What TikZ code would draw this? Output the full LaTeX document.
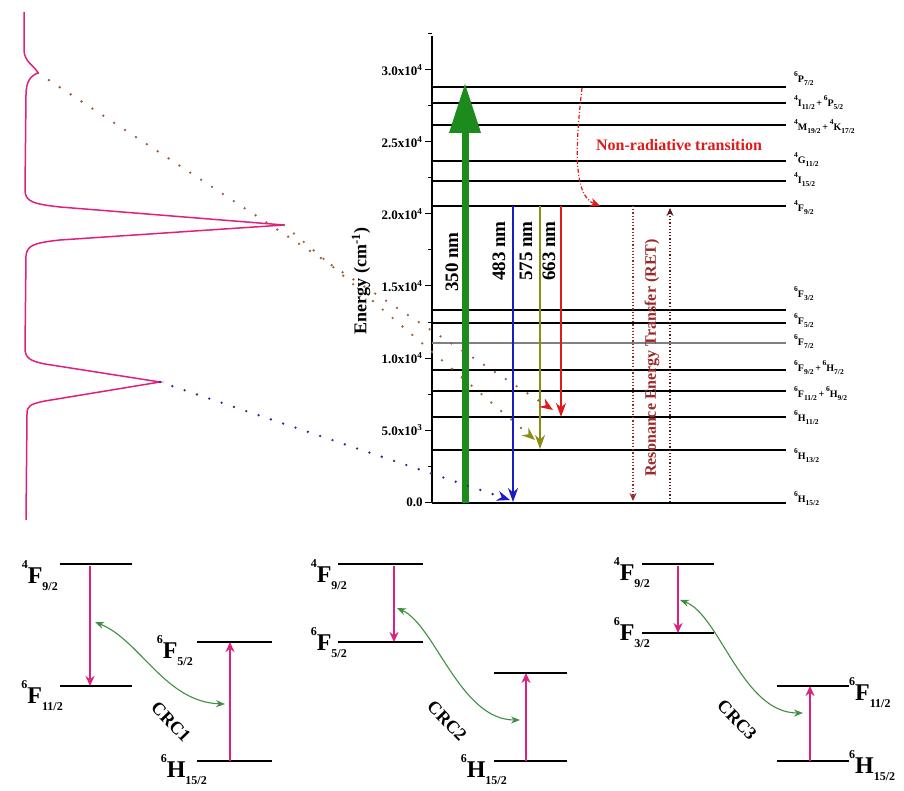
\documentclass[tikz,border=0pt]{standalone}
\usepackage{fontspec}
\setmainfont{Liberation Serif}
\usetikzlibrary{arrows.meta, positioning, calc}
\definecolor{mPink}{HTML}{E0207F}
\definecolor{mGreen}{HTML}{1C8A1C}
\definecolor{mCurve}{HTML}{3F8F3F}
\definecolor{mBlue}{HTML}{1A1AC8}
\definecolor{mOlive}{HTML}{8C8C14}
\definecolor{mRed}{HTML}{E01A1A}
\definecolor{mBrown}{HTML}{9A5A3A}
\definecolor{mNavy}{HTML}{2A2A8A}
\definecolor{mMaroon}{HTML}{9A2A2A}

\def\tsc{.5}
\newcommand{\term}[3]{\raisebox{.6em}{\scalebox{\tsc}{#1}}#2\raisebox{-.3em}{\scalebox{\tsc}{#3}}}

\tikzset{
  level/.style={line width=1.3pt},
  biglevel/.style={line width=2.2pt},
  dots/.style={line width=2.6pt, dash pattern=on 0pt off 13pt, line cap=round},
  lbl/.style={font={\fontsize{10}{10}\selectfont\bfseries\def\tsc{.75}}, anchor=west, inner sep=0pt},
  termlbl/.style={font=\fontsize{24}{24}\selectfont\bfseries, inner sep=0pt},
  crc/.style={font=\fontsize{18}{18}\selectfont\bfseries, rotate=-46, inner sep=0pt},
  nm/.style={font=\fontsize{19}{19}\selectfont\bfseries, rotate=90},
  pinkarr/.style={mPink, line width=2pt, -{Stealth[length=10pt, width=9pt]}},
  cr/.style={mCurve, line width=1.1pt, {Stealth[length=9pt, width=7pt]}-{Stealth[length=9pt, width=7pt]}}
}

\begin{document}
\begin{tikzpicture}[x=1pt, y=-1pt]
\useasboundingbox (0,0) rectangle (904,791);

% emission spectrum
\draw[mPink, line width=1.5pt] (24,12) -- (24,50) .. controls (24,62) and (35,66) .. (38,73) .. controls (30,76) and (26,82) .. (26,95) -- (25,190) .. controls (25,201) and (32,204) .. (60,207) -- (284,225) -- (60,240) .. controls (32,243) and (27,246) .. (26,256) -- (25,348) .. controls (25,358) and (30,361) .. (45,364) -- (160,382) -- (45,401) .. controls (30,404) and (27,406) .. (27,414) -- (26,520);
\coordinate (dip) at (38,73);
\coordinate (pk1) at (284,225);
\coordinate (pk2) at (160,382);

% energy axis
\coordinate (ytop) at (432,36);
\coordinate (yorg) at (432,503);
\draw[line width=1.3pt] (ytop) -- (yorg);
\foreach \k/\t in {0/{0.0}, 1/{5.0x10\textsuperscript{3}}, 2/{1.0x10\textsuperscript{4}}, 3/{1.5x10\textsuperscript{4}}, 4/{2.0x10\textsuperscript{4}}, 5/{2.5x10\textsuperscript{4}}, 6/{3.0x10\textsuperscript{4}}}
  \draw[line width=1pt] (432,{502-\k*72}) -- ++(-7,0) node[left, inner sep=2pt, font=\fontsize{13}{13}\selectfont\bfseries] (tk\k) {\t};
\foreach \k in {0,...,6}
  \draw[line width=1pt] (432,{466-\k*72}) -- ++(-4,0);
\node[rotate=90, font=\fontsize{18}{18}\selectfont\bfseries] (ylab) at (361,281) {Energy (cm\textsuperscript{-1})};

% levels
\foreach \y in {87,103,125,161,181,206,310,323,370,391,417,450,503}
  \draw[level] (432,\y) -- (786,\y);
\draw[level, gray] (432,343) -- (786,343);
\foreach \y/\t [count=\i] in {79/{\term{6}{P}{7/2}}, 103/{\term{4}{I}{11/2}\,+\,\term{6}{P}{5/2}}, 127/{\term{4}{M}{19/2}\,+\,\term{4}{K}{17/2}}, 160/{\term{4}{G}{11/2}}, 180/{\term{4}{I}{15/2}}, 208/{\term{4}{F}{9/2}}, 294/{\term{6}{F}{3/2}}, 321/{\term{6}{F}{5/2}}, 342/{\term{6}{F}{7/2}}, 368/{\term{6}{F}{9/2}\,+\,\term{6}{H}{7/2}}, 394/{\term{6}{F}{11/2}\,+\,\term{6}{H}{9/2}}, 418/{\term{6}{H}{11/2}}, 456/{\term{6}{H}{13/2}}, 499/{\term{6}{H}{15/2}}}
  \node[lbl] (lv\i) at (794,\y) {\t};

% transitions
\coordinate (gA) at (465,503); \coordinate (eA) at (465,83);
\coordinate (fB) at (513,206); \coordinate (gB) at (513,502);
\coordinate (fC) at (540,206); \coordinate (gC) at (540,449);
\coordinate (fD) at (561,206); \coordinate (gD) at (561,417);
\draw[mGreen, line width=7pt, -{Triangle[length=50pt, width=30pt]}] (gA) -- (eA);
\draw[mBlue, line width=2pt, -{Stealth[length=14pt, width=10pt]}] (fB) -- (gB);
\draw[mOlive, line width=2pt, -{Stealth[length=14pt, width=10pt]}] (fC) -- (gC);
\draw[mRed, line width=2pt, -{Stealth[length=14pt, width=10pt]}] (fD) -- (gD);
\node[nm] (nA) at (452,262) {350 nm};
\node[nm] (nB) at (499,251) {483 nm};
\node[nm] (nC) at (526,251) {575 nm};
\node[nm] (nD) at (549,251) {663 nm};

% spectrum peaks to levels
\coordinate (hD) at (553,410);
\coordinate (hC) at (535,440);
\coordinate (hB) at (510,500);
\draw[dots, mBrown, -{Stealth[length=13pt, width=10pt, color=mRed]}] (dip) -- (hD);
\draw[dots, mBrown!70!mOlive, -{Stealth[length=13pt, width=10pt, color=mOlive]}] (pk1) -- (hC);
\draw[dots, mNavy, -{Stealth[length=13pt, width=10pt, color=mBlue]}] (pk2) -- (hB);

% non-radiative relaxation
\coordinate (nrA) at (582,88); \coordinate (nrB) at (600,206);
\draw[mRed, line width=1.2pt, dash pattern=on 4pt off 2pt on 1pt off 2pt, -{Stealth[length=10pt, width=9pt]}] (nrA) .. controls (576,140) and (572,195) .. (nrB);
\node[mRed, font=\fontsize{16}{16}\selectfont\bfseries] (nr) at (679,145) {Non-radiative transition};

% resonance energy transfer
\coordinate (rA) at (633,206); \coordinate (rB) at (633,501);
\coordinate (rC) at (670,502); \coordinate (rD) at (670,208);
\draw[mMaroon, line width=1.2pt, dotted, -{Stealth[length=8pt, width=7pt]}] (rA) -- (rB);
\draw[mMaroon!60!black, line width=1.2pt, dotted, -{Stealth[length=8pt, width=7pt]}] (rC) -- (rD);
\node[rotate=90, text=mMaroon, font=\fontsize{16}{16}\selectfont\bfseries] (ret) at (652,358) {Resonance Energy Transfer (RET)};

% cross relaxation channels
\draw[biglevel] (60,564) -- (132,564);
\draw[biglevel] (60,686) -- (132,686);
\draw[biglevel] (197,642) -- (272,642);
\draw[biglevel] (197,761) -- (272,761);
\node[termlbl, anchor=base east] (c1a) at (58,583) {\term{4}{F}{9/2}};
\node[termlbl, anchor=base east] (c1b) at (63,703) {\term{6}{F}{11/2}};
\node[termlbl, anchor=base east] (c1c) at (193,658) {\term{6}{F}{5/2}};
\node[termlbl, anchor=base east] (c1d) at (207,777) {\term{6}{H}{15/2}};
\coordinate (d1a) at (90,566); \coordinate (d1b) at (90,686);
\coordinate (u1a) at (230,761); \coordinate (u1b) at (230,642);
\draw[pinkarr] (d1a) -- (d1b);
\draw[pinkarr] (u1a) -- (u1b);
\coordinate (x1a) at (95,622); \coordinate (x1b) at (225,704);
\draw[cr] (x1a) .. controls (140,640) and (165,702) .. (x1b);
\node[crc] (crc1) at (171,722) {CRC1};

\draw[biglevel] (338,564) -- (423,564);
\draw[biglevel] (338,642) -- (423,642);
\draw[biglevel] (494,673) -- (567,673);
\draw[biglevel] (494,761) -- (567,761);
\node[termlbl, anchor=base east] (c2a) at (347,582) {\term{4}{F}{9/2}};
\node[termlbl, anchor=base east] (c2b) at (347,650) {\term{6}{F}{5/2}};
\node[termlbl, anchor=base east] (c2c) at (507,777) {\term{6}{H}{15/2}};
\coordinate (d2a) at (394,566); \coordinate (d2b) at (394,642);
\coordinate (u2a) at (526,761); \coordinate (u2b) at (526,673);
\draw[pinkarr] (d2a) -- (d2b);
\draw[pinkarr] (u2a) -- (u2b);
\coordinate (x2a) at (397,608); \coordinate (x2b) at (520,720);
\draw[cr] (x2a) .. controls (435,625) and (460,720) .. (x2b);
\node[crc] (crc2) at (447,721) {CRC2};

\draw[biglevel] (642,564) -- (714,564);
\draw[biglevel] (642,633) -- (714,633);
\draw[biglevel] (777,686) -- (849,686);
\draw[biglevel] (777,761) -- (849,761);
\node[termlbl, anchor=base east] (c3a) at (650,580) {\term{4}{F}{9/2}};
\node[termlbl, anchor=base east] (c3b) at (650,640) {\term{6}{F}{3/2}};
\node[termlbl, anchor=base west] (c3c) at (849,700) {\term{6}{F}{11/2}};
\node[termlbl, anchor=base west] (c3d) at (849,773) {\term{6}{H}{15/2}};
\coordinate (d3a) at (678,566); \coordinate (d3b) at (678,633);
\coordinate (u3a) at (810,761); \coordinate (u3b) at (810,686);
\draw[pinkarr] (d3a) -- (d3b);
\draw[pinkarr] (u3a) -- (u3b);
\coordinate (x3a) at (680,600); \coordinate (x3b) at (803,713);
\draw[cr] (x3a) .. controls (720,615) and (742,713) .. (x3b);
\node[crc] (crc3) at (737,720) {CRC3};
\end{tikzpicture}
\end{document}
